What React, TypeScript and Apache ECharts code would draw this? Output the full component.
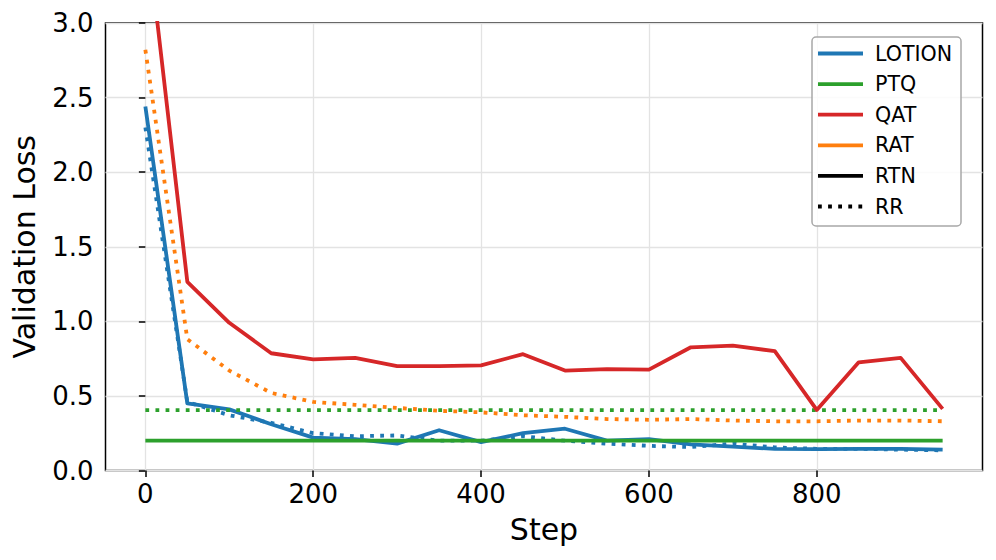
import React, { useEffect, useRef } from "react";
import * as echarts from "echarts";

const steps = [0, 50, 100, 150, 200, 250, 300, 350, 400, 450, 500, 550, 600, 650, 700, 750, 800, 850, 900, 950];
const lotion = [2.44, 0.45, 0.41, 0.31, 0.22, 0.21, 0.18, 0.27, 0.19, 0.25, 0.28, 0.2, 0.21, 0.175, 0.16, 0.145, 0.143, 0.145, 0.145, 0.14];
const lotionRR = [2.3, 0.46, 0.37, 0.32, 0.25, 0.23, 0.235, 0.2, 0.2, 0.23, 0.2, 0.18, 0.165, 0.157, 0.18, 0.155, 0.145, 0.145, 0.14, 0.135];
const ptq = [0.2, 0.2, 0.2, 0.2, 0.2, 0.2, 0.2, 0.2, 0.2, 0.2, 0.2, 0.2, 0.2, 0.2, 0.2, 0.2, 0.2, 0.2, 0.2, 0.2];
const ptqRR = [0.405, 0.405, 0.405, 0.405, 0.405, 0.405, 0.405, 0.405, 0.405, 0.405, 0.405, 0.405, 0.405, 0.405, 0.405, 0.405, 0.405, 0.405, 0.405, 0.405];
const qat = [3.7, 1.265, 0.99, 0.786, 0.745, 0.755, 0.7, 0.7, 0.705, 0.78, 0.67, 0.68, 0.676, 0.826, 0.837, 0.8, 0.406, 0.725, 0.755, 0.413];
const ratRR = [2.82, 0.88, 0.67, 0.52, 0.46, 0.44, 0.42, 0.4, 0.39, 0.37, 0.36, 0.345, 0.34, 0.345, 0.335, 0.33, 0.33, 0.335, 0.335, 0.33];

const xTicks = [0, 200, 400, 600, 800];
const legendNames = ["LOTION", "PTQ", "QAT", "RAT", "RTN", "RR"];
const legendColors = ["#1f77b4", "#2ca02c", "#d62728", "#ff7f0e", "#000000", "#000000"];
const legendDotted = [false, false, false, false, false, true];

const FONT = "DejaVu Sans";
const LW = 3.8;
const DOT = [3.8, 6.3];

function line(name: string, values: number[], color: string, dotted: boolean) {
  return {
    type: "line",
    name,
    data: steps.map((s, i) => [s, values[i]]),
    showSymbol: false,
    symbol: "none",
    clip: true,
    lineStyle: { color, width: LW, type: dotted ? DOT : "solid", cap: "butt", join: "round" },
  };
}

export default function App() {
  const ref = useRef<HTMLDivElement>(null);
  useEffect(() => {
    if (!ref.current) return;
    const chart = echarts.init(ref.current, null, { renderer: "svg" });
    const legendX = 812;
    const legendY = 37;
    const rowY0 = 53.5;
    const rowGap = 30.6;
    const legendGraphics: any[] = [
      {
        type: "rect",
        shape: { x: legendX, y: legendY, width: 149, height: 189, r: 4 },
        style: { fill: "rgba(255,255,255,0.85)", stroke: "#a8a8a8", lineWidth: 1.5 },
        z: 100,
      },
    ];
    legendNames.forEach((n, i) => {
      const y = rowY0 + rowGap * i;
      legendGraphics.push({
        type: "line",
        shape: { x1: 818, y1: y, x2: 863, y2: y },
        style: {
          stroke: legendColors[i],
          lineWidth: LW,
          lineDash: legendDotted[i] ? DOT : null,
          lineCap: "butt",
        },
        z: 101,
      });
      legendGraphics.push({
        type: "text",
        x: 875,
        y,
        style: {
          text: n,
          fill: "#000",
          font: `20.6px "${FONT}"`,
          textVerticalAlign: "middle",
          textAlign: "left",
        },
        z: 101,
      });
    });

    chart.setOption({
      animation: false,
      backgroundColor: "#fff",
      grid: {
        left: 105.5,
        right: 13.5,
        top: 23,
        bottom: 89.5,
        show: true,
        borderColor: "#000",
        borderWidth: 1.5,
        backgroundColor: "transparent",
        containLabel: false,
      },
      xAxis: {
        type: "value",
        min: -47.5,
        max: 997.5,
        name: "Step",
        nameLocation: "middle",
        nameGap: 44,
        nameTextStyle: { fontFamily: FONT, fontSize: 30, color: "#000" },
        axisLine: { show: false },
        axisTick: {
          show: true,
          customValues: xTicks,
          length: 6.5,
          lineStyle: { color: "#000", width: 1.5 },
        },
        axisLabel: {
          customValues: xTicks,
          fontFamily: FONT,
          fontSize: 26,
          color: "#000",
          margin: 10,
        },
        splitLine: { show: true, lineStyle: { color: "#e3e3e3", width: 1.3 } },
      },
      yAxis: {
        type: "value",
        min: 0,
        max: 3,
        interval: 0.5,
        name: "Validation Loss",
        nameLocation: "middle",
        nameGap: 66,
        nameTextStyle: { fontFamily: FONT, fontSize: 30, color: "#000" },
        axisLine: { show: false },
        axisTick: { show: true, length: 6.5, lineStyle: { color: "#000", width: 1.5 } },
        axisLabel: {
          fontFamily: FONT,
          fontSize: 26,
          color: "#000",
          margin: 12,
          formatter: (v: number) => v.toFixed(1),
        },
        splitLine: { show: true, lineStyle: { color: "#e3e3e3", width: 1.3 } },
      },
      series: [
        line("LOTION", lotion, "#1f77b4", false),
        line("LOTION RR", lotionRR, "#1f77b4", true),
        line("PTQ", ptq, "#2ca02c", false),
        line("PTQ RR", ptqRR, "#2ca02c", true),
        line("QAT", qat, "#d62728", false),
        line("RAT RR", ratRR, "#ff7f0e", true),
      ],
      graphic: legendGraphics,
    });
    return () => chart.dispose();
  }, []);
  return (
    <div
      ref={ref}
      style={{ position: "fixed", left: 0, top: 0, width: 996, height: 560 }}
    />
  );
}
